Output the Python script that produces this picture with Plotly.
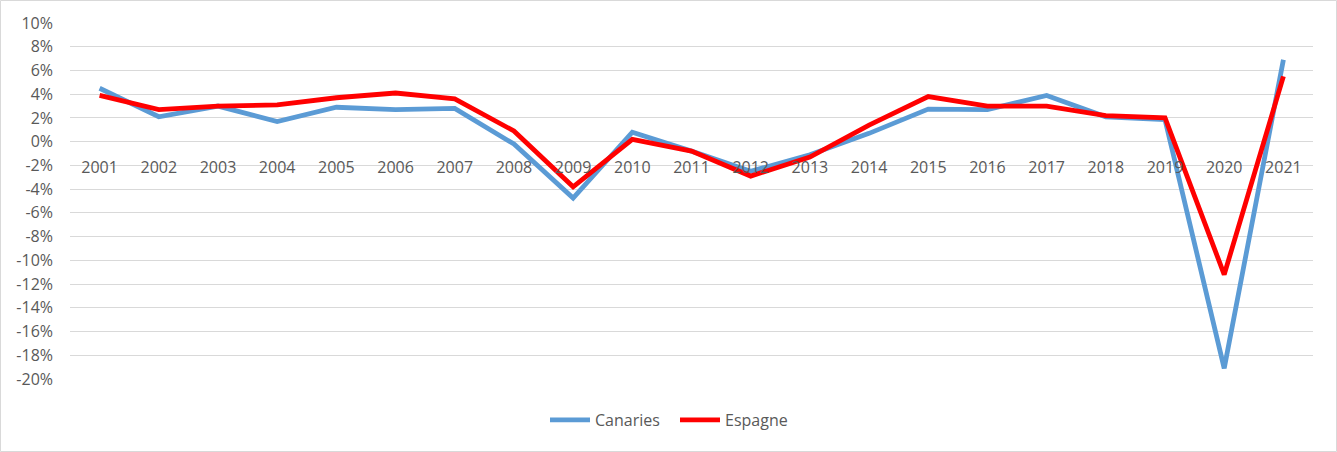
import plotly.graph_objects as go

years = [str(y) for y in range(2001, 2022)]
canaries = [4.5, 2.1, 3.0, 1.7, 2.9, 2.7, 2.8, -0.2, -4.75, 0.8, -0.8, -2.5, -1.1, 0.7,
            2.75, 2.7, 3.9, 2.1, 1.85, -19.1, 6.9]
espagne = [3.9, 2.7, 3.0, 3.1, 3.7, 4.1, 3.6, 0.9, -3.8, 0.2, -0.8, -2.9, -1.3, 1.4,
           3.8, 3.0, 3.0, 2.2, 2.0, -11.2, 5.5]
y_ticks = list(range(-20, 11, 2))

W, H = 1337, 452
ML, MR, MT, MB = 70, 24, 23, 73
FONT = "Open Sans"
GRAY = "#595959"
GRID = "#D9D9D9"

fig = go.Figure()
fig.add_trace(go.Scatter(x=years, y=canaries, name="Canaries", mode="lines",
                         line=dict(color="#5B9BD5", width=4.8)))
fig.add_trace(go.Scatter(x=years, y=espagne, name="Espagne", mode="lines",
                         line=dict(color="#FF0000", width=4.8)))

ymin, ymax = -20, 10
pw = W - ML - MR
ph = H - MT - MB

fig.update_layout(
    width=W, height=H,
    margin=dict(l=ML, r=MR, t=MT, b=MB, pad=0, autoexpand=False),
    paper_bgcolor="white", plot_bgcolor="white",
    font=dict(family=FONT, size=16, color=GRAY),
    xaxis=dict(type="category", range=[-0.5, 20.5], anchor="free",
               position=(0 - ymin) / (ymax - ymin),
               showgrid=False, showline=False,
               ticks="outside", ticklen=11, tickcolor="rgba(0,0,0,0)",
               tickfont=dict(family=FONT, size=16, color=GRAY), zeroline=False),
    yaxis=dict(range=[ymin, ymax], tickvals=y_ticks,
               ticktext=[f"{v}%" for v in y_ticks],
               showgrid=True, gridcolor=GRID, gridwidth=1, zeroline=False,
               showline=False, ticks="", ticklabelstandoff=16,
               tickfont=dict(family=FONT, size=16, color=GRAY)),
    legend=dict(orientation="h", xref="paper", yref="paper",
                x=(545 - ML) / pw, xanchor="left",
                y=-(420 - (MT + ph)) / ph, yanchor="middle",
                font=dict(family=FONT, size=16, color=GRAY),
                itemwidth=40, tracegroupgap=0,
                entrywidth=75, entrywidthmode="pixels"),
    showlegend=True,
)

fig.add_shape(type="rect", xref="paper", yref="paper",
              x0=(0.5 - ML) / pw, x1=(W - 0.5 - ML) / pw,
              y0=-(MB - 0.5) / ph, y1=1 + (MT - 0.5) / ph,
              line=dict(color=GRID, width=1), fillcolor="rgba(0,0,0,0)", layer="below")

fig.write_html("out.html", config={"displayModeBar": False},
               post_script="document.body.style.margin='0';document.body.style.padding='0';")
